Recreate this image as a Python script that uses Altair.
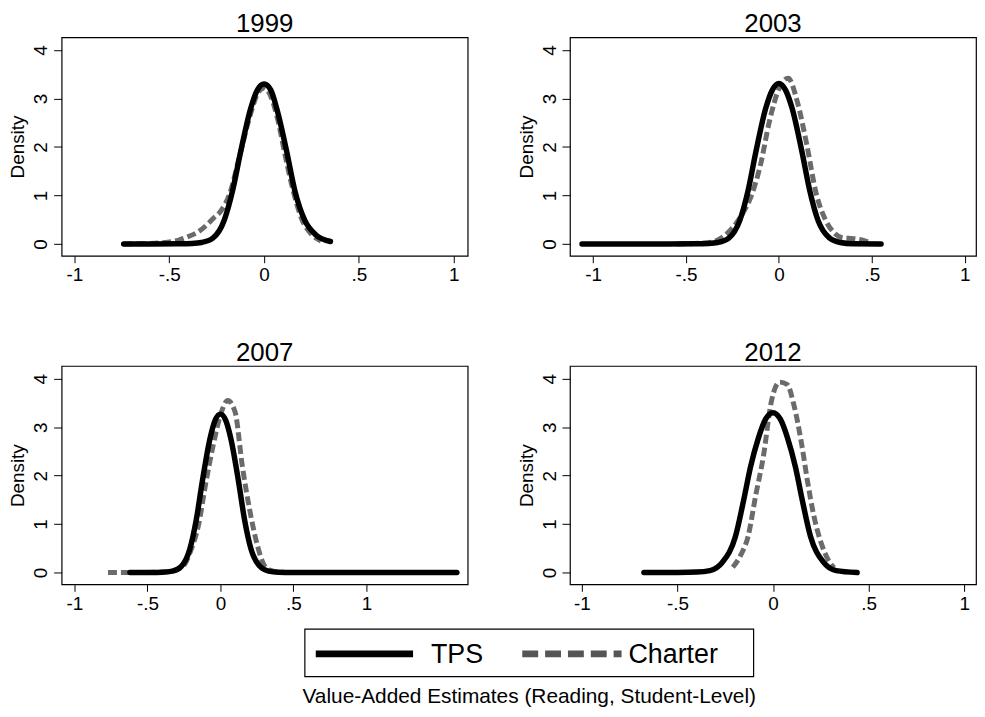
import altair as alt
import pandas as pd

# ---------------- data ----------------
years = ["1999", "2003", "2007", "2012"]
series_names = ["TPS", "Charter"]

tps_1999_x = [-0.74, -0.6, -0.45, -0.38, -0.33, -0.27, -0.21, -0.166, -0.123, -0.071, -0.035, 0.0, 0.035, 0.067, 0.119, 0.162, 0.214, 0.275, 0.35]
tps_1999_y = [0.0, 0.0, 0.003, 0.01, 0.03, 0.12, 0.49, 1.1, 1.91, 2.79, 3.18, 3.3, 3.18, 2.79, 1.91, 1.1, 0.49, 0.18, 0.05]
charter_1999_x = [-0.74, -0.6, -0.5, -0.45, -0.4, -0.347, -0.3, -0.27, -0.226, -0.18, -0.13, -0.07, -0.035, 0.0, 0.035, 0.07, 0.11, 0.145, 0.2, 0.25, 0.3]
charter_1999_y = [0.0, 0.01, 0.04, 0.08, 0.15, 0.25, 0.4, 0.52, 0.69, 1.05, 1.8, 2.7, 3.1, 3.22, 3.05, 2.6, 1.85, 1.23, 0.5, 0.2, 0.06]

tps_2003_x = [-1.06, -0.8, -0.6, -0.45, -0.38, -0.33, -0.27, -0.21, -0.166, -0.123, -0.071, -0.035, 0.0, 0.035, 0.071, 0.123, 0.166, 0.21, 0.27, 0.33, 0.4, 0.55]
tps_2003_y = [0.0, 0.0, 0.0, 0.003, 0.01, 0.03, 0.12, 0.49, 1.1, 1.92, 2.8, 3.18, 3.31, 3.18, 2.8, 1.92, 1.1, 0.49, 0.13, 0.03, 0.005, 0.0]
charter_2003_x = [-0.55, -0.4, -0.33, -0.3, -0.25, -0.2, -0.15, -0.1, -0.05, 0.0, 0.05, 0.1, 0.15, 0.2, 0.25, 0.3, 0.35, 0.4, 0.45, 0.5]
charter_2003_y = [0.0, 0.02, 0.08, 0.15, 0.33, 0.6, 0.98, 1.62, 2.55, 3.2, 3.42, 2.92, 2.05, 1.05, 0.5, 0.22, 0.12, 0.11, 0.08, 0.01]

tps_2007_x = [-0.62, -0.5, -0.4, -0.33, -0.27, -0.21, -0.166, -0.123, -0.071, -0.035, 0.0, 0.035, 0.071, 0.123, 0.166, 0.21, 0.27, 0.33, 0.4, 0.5, 0.8, 1.2, 1.62]
tps_2007_y = [0.0, 0.002, 0.008, 0.03, 0.12, 0.48, 1.08, 1.9, 2.77, 3.15, 3.27, 3.15, 2.77, 1.9, 1.08, 0.48, 0.13, 0.03, 0.008, 0.002, 0.0, 0.0, 0.0]
charter_2007_x = [-0.77, -0.6, -0.45, -0.35, -0.3, -0.25, -0.2, -0.15, -0.1, -0.05, 0.0, 0.05, 0.1, 0.15, 0.2, 0.25, 0.3, 0.35, 0.4, 0.5]
charter_2007_y = [0.0, 0.0, 0.005, 0.02, 0.06, 0.15, 0.48, 0.98, 1.85, 2.62, 3.25, 3.55, 3.32, 2.2, 1.3, 0.6, 0.15, 0.04, 0.01, 0.0]

tps_2012_x = [-0.675, -0.5, -0.4, -0.33, -0.265, -0.196, -0.153, -0.118, -0.076, -0.038, 0.0, 0.038, 0.076, 0.118, 0.153, 0.196, 0.265, 0.33, 0.44]
tps_2012_y = [0.0, 0.003, 0.01, 0.04, 0.21, 0.75, 1.5, 2.17, 2.78, 3.17, 3.3, 3.17, 2.78, 2.17, 1.5, 0.75, 0.21, 0.04, 0.0]
charter_2012_x = [-0.21, -0.17, -0.13, -0.09, -0.05, -0.01, 0.035, 0.075, 0.11, 0.15, 0.18, 0.215, 0.26, 0.295, 0.32]
charter_2012_y = [0.11, 0.35, 0.75, 1.6, 2.4, 3.5, 3.93, 3.88, 3.45, 2.65, 1.9, 1.15, 0.52, 0.22, 0.1]

x_ticks = [-1, -0.5, 0, 0.5, 1]
y_ticks = [0, 1, 2, 3, 4]
x_domains = [[-1.067, 1.073], [-1.125, 1.061], [-1.088, 1.694], [-1.062, 1.062]]
y_domain = [-0.244, 4.264]
y_title = "Density"
x_title = "Value-Added Estimates (Reading, Student-Level)"

# ---------------- build table ----------------
curves = {
    ("1999", "TPS"): (tps_1999_x, tps_1999_y),
    ("1999", "Charter"): (charter_1999_x, charter_1999_y),
    ("2003", "TPS"): (tps_2003_x, tps_2003_y),
    ("2003", "Charter"): (charter_2003_x, charter_2003_y),
    ("2007", "TPS"): (tps_2007_x, tps_2007_y),
    ("2007", "Charter"): (charter_2007_x, charter_2007_y),
    ("2012", "TPS"): (tps_2012_x, tps_2012_y),
    ("2012", "Charter"): (charter_2012_x, charter_2012_y),
}
rows = []
for (yr, s), (xs, ys) in curves.items():
    for i, (a, b) in enumerate(zip(xs, ys)):
        rows.append({"panel": yr, "series": s, "x": a, "y": b, "i": i})
df = pd.DataFrame(rows)

FONT = "Liberation Sans"
PW, PH = 409, 220
GRAY = "#6b6b6b"

label_expr = ("datum.value == 0 ? '0' : (datum.value < 0 ? '-' : '') + "
              "replace(toString(abs(datum.value)), '0.', '.')")


def panel(k):
    yr = years[k]
    base = alt.Chart(df).transform_filter(alt.datum.panel == yr)
    xenc = alt.X("x:Q",
                 scale=alt.Scale(domain=x_domains[k], nice=False, zero=False),
                 axis=alt.Axis(values=x_ticks, labelExpr=label_expr, title=None,
                               tickSize=7, labelPadding=3, labelFontSize=19,
                               labelFont=FONT, labelColor="black", tickColor="black",
                               domain=False, grid=False, labelFlush=False))
    yenc = alt.Y("y:Q",
                 scale=alt.Scale(domain=y_domain, nice=False, zero=False),
                 axis=alt.Axis(values=y_ticks, title=y_title, tickSize=8,
                               labelAngle=270, labelAlign="center",
                               labelBaseline="alphabetic", labelPadding=7,
                               labelFontSize=19, labelFont=FONT, labelColor="black",
                               tickColor="black", titleFont=FONT, titleFontSize=19,
                               titleFontWeight="normal", titleColor="black",
                               titlePadding=4, domain=False, grid=False,
                               labelFlush=False))
    charter = base.transform_filter(alt.datum.series == "Charter").mark_line(
        color=GRAY, strokeWidth=5, strokeDash=[9, 4], interpolate="monotone"
    ).encode(x=xenc, y=yenc, order="i:Q")
    tps = base.transform_filter(alt.datum.series == "TPS").mark_line(
        color="black", strokeWidth=5.5, strokeCap="round", interpolate="monotone"
    ).encode(x=xenc, y=yenc, order="i:Q")
    return alt.layer(charter, tps).properties(
        width=PW, height=PH,
        title=alt.TitleParams(yr, fontSize=26, fontWeight="normal", font=FONT,
                              color="black", offset=0),
    )


row1 = alt.hconcat(panel(0), panel(1), spacing=48)
row2 = alt.hconcat(panel(2), panel(3), spacing=48)
top = alt.vconcat(row1, row2, spacing=54)

# ---------------- legend + x title ----------------
leg_df = pd.DataFrame({"series": series_names})
title_df = pd.DataFrame({"t": [x_title]})
box = alt.Chart(title_df).mark_rect(fill="white", stroke="black", strokeWidth=1.2).encode(
    x=alt.value(245), x2=alt.value(697), y=alt.value(0), y2=alt.value(48))
tps_line = alt.Chart(leg_df).transform_filter(alt.datum.series == "TPS").mark_rule(
    color="black", strokeWidth=7).encode(x=alt.value(256), x2=alt.value(354), y=alt.value(25))
tps_text = alt.Chart(leg_df).transform_filter(alt.datum.series == "TPS").mark_text(
    align="left", baseline="middle", fontSize=27, font=FONT, color="black").encode(
    text="series:N", x=alt.value(372), y=alt.value(26))
ch_line = alt.Chart(leg_df).transform_filter(alt.datum.series == "Charter").mark_rule(
    color="#555555", strokeWidth=7, strokeDash=[16, 7]).encode(
    x=alt.value(464), x2=alt.value(564), y=alt.value(25))
ch_text = alt.Chart(leg_df).transform_filter(alt.datum.series == "Charter").mark_text(
    align="left", baseline="middle", fontSize=27, font=FONT, color="black").encode(
    text="series:N", x=alt.value(571), y=alt.value(26))
xt = alt.Chart(title_df).mark_text(
    align="center", baseline="middle", fontSize=21, font=FONT, color="black").encode(
    text="t:N", x=alt.value(471), y=alt.value(68))
legend = alt.layer(box, tps_line, tps_text, ch_line, ch_text, xt).properties(
    width=860, height=76, view=alt.ViewBackground(stroke="transparent"))

chart = alt.vconcat(top, legend, spacing=13).properties(
    padding={"left": 0, "top": 0, "right": 0, "bottom": 0},
    background="white",
).configure_view(stroke="black", strokeWidth=1.2)

chart.save("out.html", embed_options={"renderer": "svg", "actions": False})
